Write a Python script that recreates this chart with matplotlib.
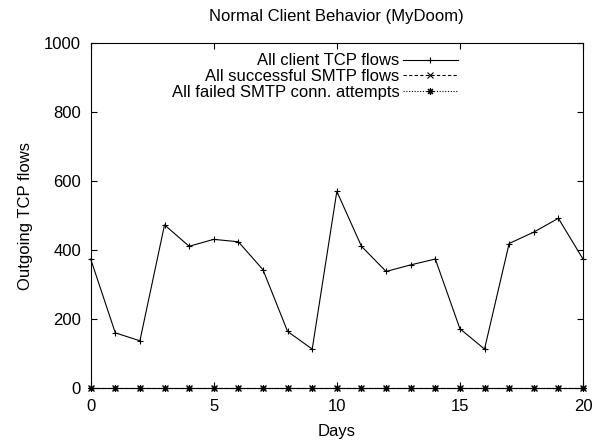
import numpy as np
import matplotlib
matplotlib.use('Agg')
import matplotlib.pyplot as plt

plt.rcParams['font.family'] = ['Liberation Sans', 'DejaVu Sans']
plt.rcParams['font.size'] = 12

# data
days = list(range(21))
client_tcp = [374, 160, 137, 473, 411, 431, 424, 343, 164, 113,
              570, 411, 338, 357, 374, 172, 113, 419, 452, 492, 374]
smtp_ok = [0] * 21
smtp_failed = [0] * 21

x_ticks = [0, 5, 10, 15, 20]
y_ticks = [0, 200, 400, 600, 800, 1000]

fig = plt.figure(figsize=(5.95, 4.44), dpi=100)
ax = fig.add_axes([0.1524, 0.126, 0.8274, 0.777])

ax.plot(days, client_tcp, color='black', lw=0.8, marker='+', ms=5,
        mew=0.8, label='All client TCP flows', clip_on=False)
ax.plot(days, smtp_ok, color='black', lw=0.8, ls=(0, (3, 2)), marker='x',
        ms=4, mew=0.8, label='All successful SMTP flows', clip_on=False)
ax.plot(days, smtp_failed, color='black', lw=0.8, ls=(0, (1, 1.5)),
        marker=(8, 2, 0), ms=5, mew=0.8,
        label='All failed SMTP conn. attempts', clip_on=False)

ax.set_xlim(0, 20)
ax.set_ylim(0, 1000)
ax.set_xticks(x_ticks)
ax.set_yticks(y_ticks)
ax.tick_params(direction='in', length=4, width=0.8, top=True, right=True,
               labelsize=12)
ax.tick_params(axis='x', pad=8)
ax.tick_params(axis='y', pad=7)
for s in ax.spines.values():
    s.set_linewidth(0.8)

ax.set_xlabel('Days', labelpad=7)
ax.set_ylabel('Outgoing TCP flows', labelpad=8)
ax.set_title('Normal Client Behavior (MyDoom)', fontsize=12, pad=16)

leg = ax.legend(loc='upper right', bbox_to_anchor=(0.746, 0.97),
                markerfirst=False, frameon=False, handlelength=3.3,
                handletextpad=0.2, labelspacing=0.05, borderpad=0,
                borderaxespad=0, fontsize=12)

fig.savefig('out.png', dpi=100)
